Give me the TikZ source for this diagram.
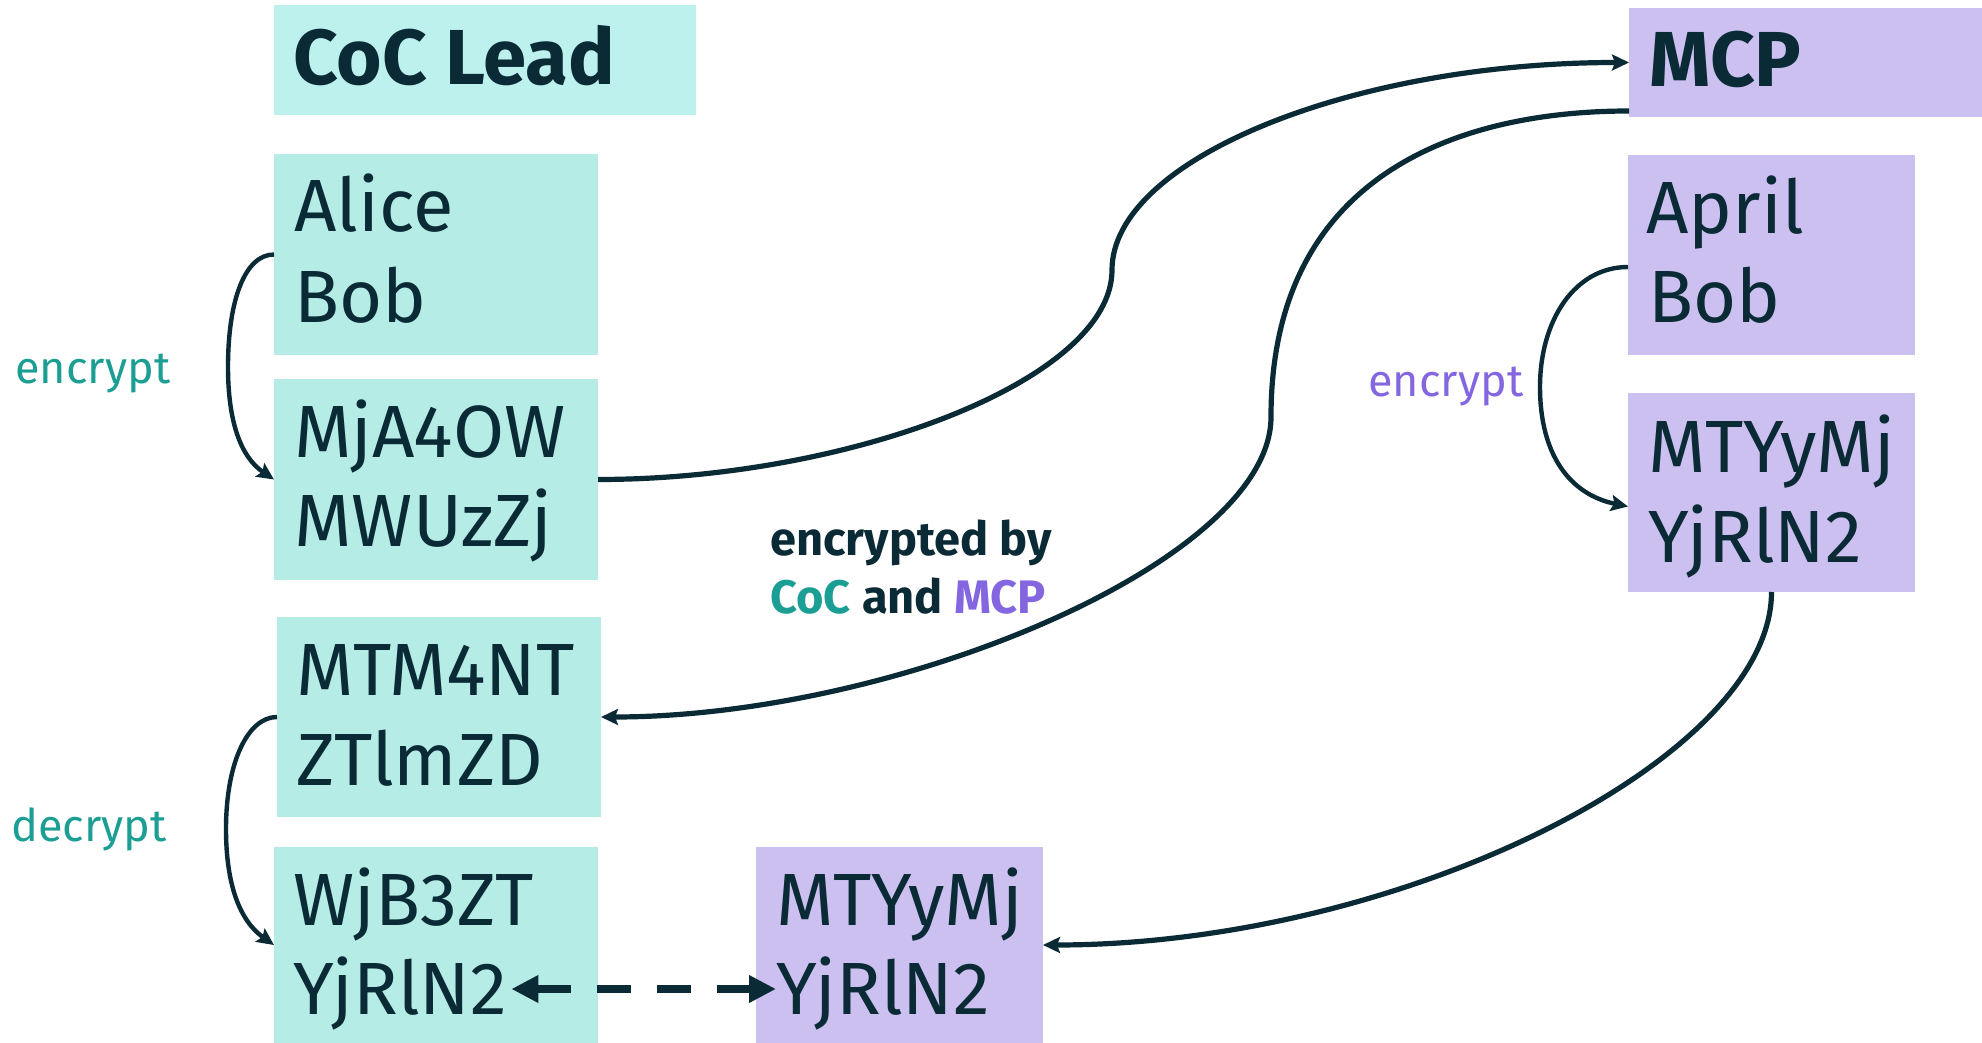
\documentclass[tikz,border=0pt]{standalone}
\usepackage{fontspec}
\setmainfont{Fira Sans}
\usetikzlibrary{arrows.meta,calc}

\definecolor{ink}{HTML}{0A2A35}
\definecolor{tealfill}{HTML}{B5ECE6}
\definecolor{leadfill}{HTML}{BDF1EE}
\definecolor{lilacfill}{HTML}{CBC0F0}
\definecolor{tealtext}{HTML}{1B9E94}
\definecolor{lilactext}{HTML}{8466E0}

\tikzset{
  x=0.5pt, y=-0.5pt,
  cell/.style={anchor=north west, inner sep=0pt, outer sep=0pt, draw=none},
  tealcell/.style={cell, fill=tealfill},
  leadcell/.style={cell, fill=leadfill},
  lilaccell/.style={cell, fill=lilacfill},
  word/.style={anchor=base west, inner sep=0pt, text=ink,
    font=\fontsize{37}{44}\selectfont},
  headword/.style={anchor=base west, inner sep=0pt, text=ink,
    font=\fontsize{39}{46}\selectfont\bfseries},
  note/.style={anchor=base west, inner sep=0pt,
    font=\fontsize{22.5}{28}\selectfont},
  boldnote/.style={anchor=base west, inner sep=0pt, text=ink,
    font=\fontsize{23.5}{29}\selectfont\bfseries},
  flow/.style={draw=ink, line width=2.6pt,
    -{Stealth[length=8.5pt,width=8pt,inset=1.5pt]}},
  loopflow/.style={draw=ink, line width=2.2pt,
    -{Stealth[length=8.5pt,width=8pt,inset=1.5pt]}},
  swap/.style={draw=ink, line width=4.2pt, dash pattern=on 17pt off 13pt,
    {Triangle[length=13.5pt,width=13pt]}-{Triangle[length=13.5pt,width=13pt]}}
}

\begin{document}
\begin{tikzpicture}
\useasboundingbox[fill=white] (0,0) rectangle (1982,1043);

% ---- CoC side -------------------------------------------------------
\node[leadcell, minimum width=211pt, minimum height=55pt] (lead) at (274,5) {};
\node[headword] (leadtxt) at (293,85) {CoC Lead};

\node[tealcell, minimum width=162pt, minimum height=100.5pt] (ab) at (274,154) {};
\node[word] (alice) at (294,232) {Alice};
\node[word] (bobl) at (294,322) {Bob};

\node[tealcell, minimum width=162pt, minimum height=100.5pt] (enc) at (274,379) {};
\node[word] (enca) at (294,457) {MjA4OW};
\node[word] (encb) at (294,546) {MWUzZj};

\node[tealcell, minimum width=162pt, minimum height=100pt] (dbl) at (277,617) {};
\node[word] (dbla) at (296,695) {MTM4NT};
\node[word] (dblb) at (296,785) {ZTlmZD};

\node[tealcell, minimum width=162pt, minimum height=98pt] (dec) at (274,847) {};
\node[word] (deca) at (293,925) {WjB3ZT};
\node[word] (decb) at (293,1014) {YjRlN2};

% ---- MCP side -------------------------------------------------------
\node[lilaccell, minimum width=176.5pt, minimum height=54.5pt] (mcp) at (1629,8) {};
\node[headword] (mcptxt) at (1649,87) {MCP};

\node[lilaccell, minimum width=143.5pt, minimum height=100pt] (apr) at (1628,155) {};
\node[word] (april) at (1646,234) {April};
\node[word] (bobr) at (1648,323) {Bob};

\node[lilaccell, minimum width=143.5pt, minimum height=99.5pt] (mty) at (1628,393) {};
\node[word] (mtya) at (1648,472) {MTYyMj};
\node[word] (mtyb) at (1648,562) {YjRlN2};

\node[lilaccell, minimum width=143.5pt, minimum height=98pt] (rcv) at (756,847) {};
\node[word] (rcva) at (776,925) {MTYyMj};
\node[word] (rcvb) at (776,1014) {YjRlN2};

% ---- labels ---------------------------------------------------------
\node[note, text=tealtext] (enclbl) at (15,384) {encrypt};
\node[note, text=lilactext] (mcplbl) at (1368,396) {encrypt};
\node[note, text=tealtext] (declbl) at (11,841) {decrypt};
\node[boldnote] (bylbl) at (770,555) {encrypted by};
\node[boldnote] (bothlbl) at (770,613)
  {\textcolor{tealtext}{CoC} and \textcolor{lilactext}{MCP}};

% ---- bend points of the long connectors -----------------------------
\coordinate (up) at (1112,270);
\coordinate (down) at (1271,417);
\coordinate (lbend) at (228,367);
\coordinate (dbend) at (226,829);
\coordinate (rbend) at (1540,387);

% ---- local encrypt / decrypt loops ----------------------------------
\draw[loopflow] (ab.west) .. controls +(-29,0) and +(0,-67) .. (lbend)
  .. controls +(0,53) and +(-34,-23) .. (enc.west);
\draw[loopflow] (dbl.west) .. controls +(-29,0) and +(0,-67) .. (dbend)
  .. controls +(0,56) and +(-34,-24) .. (dec.west);
\draw[loopflow] ($(apr.west)+(0,12)$) .. controls +(-53,0) and +(0,-67) .. (rbend)
  .. controls +(0,68) and +(-58,-12) .. ($(mty.west)+(0,14)$);

% ---- exchanges between the two parties ------------------------------
\draw[flow] (enc.east) .. controls +(252,0) and +(0,110) .. (up)
  .. controls +(0,-110) and +(-278,0) .. (mcp.west);
\draw[flow] ($(mcp.south west)+(0,-6)$) .. controls +(-178,0) and +(0,-237) .. (down)
  .. controls +(0,143) and +(299,0) .. (dbl.east);
\draw[flow] (mty.south) .. controls +(0,167) and +(357,0) .. (rcv.east);

% ---- the two results are compared -----------------------------------
\draw[swap] ($(decb.base east)+(4,-25)$) -- ($(rcvb.base west)+(0,-25)$);
\end{tikzpicture}
\end{document}
